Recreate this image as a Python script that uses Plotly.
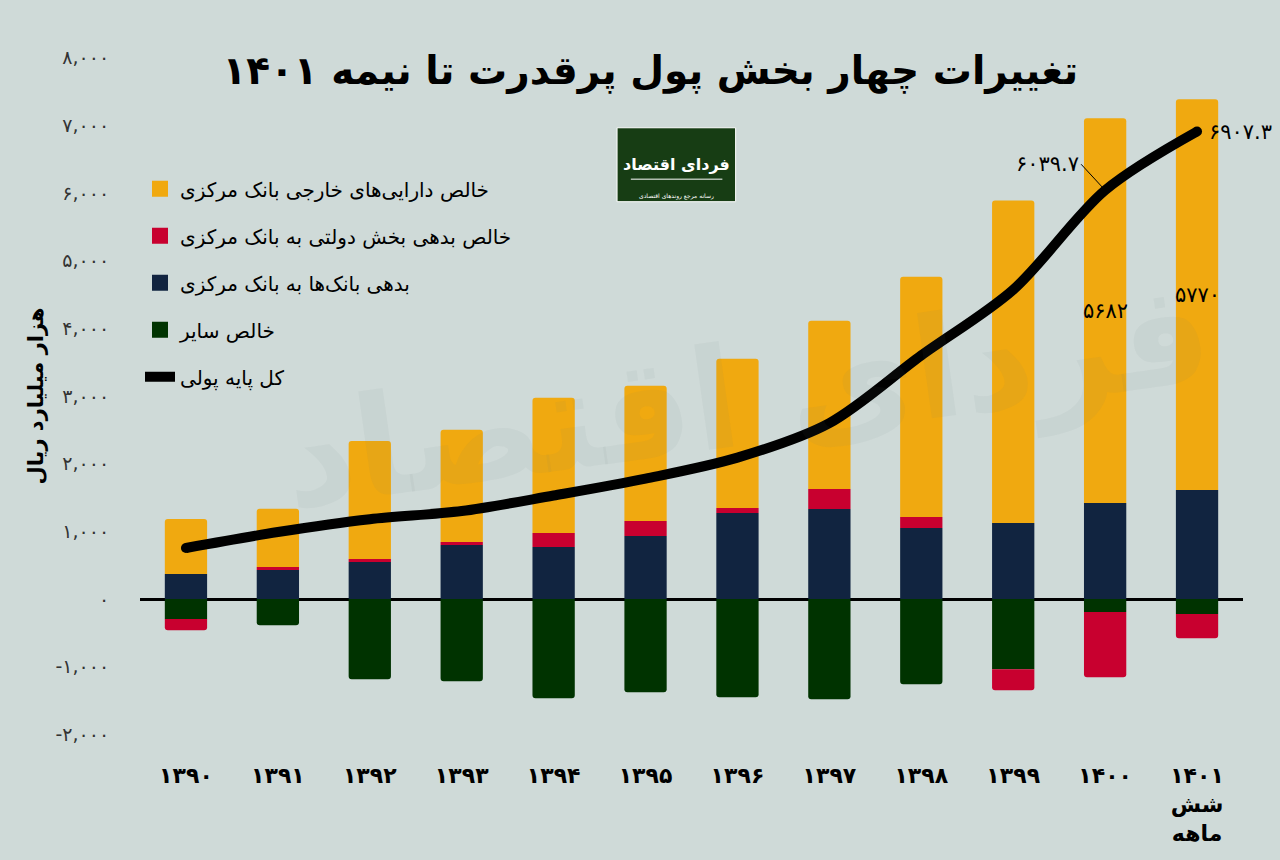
import plotly.graph_objects as go

# ---------------- data ----------------
years = ["۱۳۹۰", "۱۳۹۱", "۱۳۹۲", "۱۳۹۳", "۱۳۹۴", "۱۳۹۵",
         "۱۳۹۶", "۱۳۹۷", "۱۳۹۸", "۱۳۹۹", "۱۴۰۰", "۱۴۰۱<br>شش<br>ماهه"]
foreign_assets = [814, 858, 1745, 1657, 1997, 1997, 2204, 2485, 3550, 4763, 5682, 5770]
gov_debt = [-163, 45, 45, 45, 207, 222, 74, 296, 163, -311, -962, -355]
bank_debt = [370, 430, 547, 800, 770, 932, 1272, 1331, 1050, 1124, 1420, 1612]
other_net = [-296, -385, -1183, -1213, -1464, -1376, -1450, -1479, -1257, -1036, -192, -222]
monetary_base = [754, 990, 1180, 1300, 1530, 1780, 2090, 2600, 3600, 4570, 6039.7, 6907.3]
yticks = [-2000, -1000, 0, 1000, 2000, 3000, 4000, 5000, 6000, 7000, 8000]
ytick_text = ["-۲,۰۰۰", "-۱,۰۰۰", "۰", "۱,۰۰۰", "۲,۰۰۰", "۳,۰۰۰", "۴,۰۰۰",
              "۵,۰۰۰", "۶,۰۰۰", "۷,۰۰۰", "۸,۰۰۰"]
labelled_bars = {10: "۵۶۸۲", 11: "۵۷۷۰"}
base_labels = {10: "۶۰۳۹.۷", 11: "۶۹۰۷.۳"}

names = ["خالص دارایی‌های خارجی بانک مرکزی",
         "خالص بدهی بخش دولتی به بانک مرکزی",
         "بدهی بانک‌ها به بانک مرکزی",
         "خالص سایر",
         "کل پایه پولی"]

# ---------------- style ----------------
BG = "#cfdad8"
C_YEL = "#f0a910"
C_RED = "#c8002f"
C_NAVY = "#112440"
C_GRN = "#003300"
FONT = "DejaVu Sans"

x = list(range(len(years)))
fig = go.Figure()

bar_common = dict(x=x, width=0.46, showlegend=False, marker_line_width=0)
fig.add_trace(go.Bar(y=bank_debt, marker_color=C_NAVY, name=names[2], **bar_common))
fig.add_trace(go.Bar(y=other_net, marker_color=C_GRN, name=names[3], **bar_common))
fig.add_trace(go.Bar(y=gov_debt, marker_color=C_RED, name=names[1], **bar_common))
fig.add_trace(go.Bar(y=foreign_assets, marker_color=C_YEL, name=names[0], **bar_common))

fig.add_trace(go.Scatter(
    x=x, y=monetary_base, mode="lines", showlegend=False,
    line=dict(color="black", width=10, shape="spline", smoothing=0.9),
    name=names[4]))
# rounded line ends
fig.add_trace(go.Scatter(
    x=[x[0], x[-1]], y=[monetary_base[0], monetary_base[-1]], mode="markers",
    marker=dict(color="black", size=10), showlegend=False, hoverinfo="skip"))

# legend proxies
legend_colors = [C_YEL, C_RED, C_NAVY, C_GRN]
for i, (nm, col) in enumerate(zip(names[:4], legend_colors)):
    fig.add_trace(go.Scatter(
        x=[None], y=[None], mode="markers", name=nm, legendgroup=f"g{i}",
        marker=dict(symbol="square", size=16, color=col)))
fig.add_trace(go.Scatter(
    x=[None], y=[None], mode="lines", name=names[4], legendgroup="g4",
    line=dict(color="black", width=10)))

annotations = []
# values inside the last two yellow bars
for i, txt in labelled_bars.items():
    base = bank_debt[i] + max(gov_debt[i], 0)
    annotations.append(dict(x=i, y=base + foreign_assets[i] / 2, text=txt,
                            showarrow=False, font=dict(size=21, color="black", family=FONT)))
# monetary base labels
annotations.append(dict(x=11, y=monetary_base[11], text=base_labels[11],
                        showarrow=False, xanchor="left", xshift=10,
                        font=dict(size=21, color="black", family=FONT)))
annotations.append(dict(x=10, y=monetary_base[10], text=base_labels[10],
                        showarrow=True, arrowhead=0, arrowwidth=1, arrowcolor="black",
                        ax=-24, ay=-26, xanchor="right",
                        font=dict(size=21, color="black", family=FONT)))
# logo text
annotations.append(dict(xref="paper", yref="paper", x=0.486, y=0.845,
                        text="<b>فردای اقتصاد</b>", showarrow=False,
                        font=dict(size=16, color="white", family=FONT)))
annotations.append(dict(xref="paper", yref="paper", x=0.486, y=0.792,
                        text="رسانه مرجع روندهای اقتصادی", showarrow=False,
                        font=dict(size=6, color="white", family=FONT)))
# faint watermark
annotations.append(dict(xref="paper", yref="paper", x=0.55, y=0.50,
                        text="<b>فردای اقتصاد</b>", showarrow=False, textangle=-8,
                        font=dict(size=140, color="rgba(100,125,115,0.06)", family=FONT)))

shapes = [
    dict(type="rect", xref="paper", yref="paper", x0=0.4325, x1=0.540, y0=0.776, y1=0.881,
         fillcolor="#173d14", line=dict(width=1, color="#ffffff"), layer="above"),
    dict(type="line", xref="paper", yref="paper", x0=0.445, x1=0.528, y0=0.808, y1=0.808,
         line=dict(width=1, color="white"), layer="above"),
]

fig.update_layout(
    width=1280, height=860,
    paper_bgcolor=BG, plot_bgcolor=BG,
    barmode="relative",
    barcornerradius=3,
    margin=dict(l=140, r=37, t=44, b=112),
    font=dict(family=FONT, color="#222"),
    title=dict(text="<b>تغییرات چهار بخش پول پرقدرت تا نیمه ۱۴۰۱</b>",
               x=0.508, xanchor="center", y=0.918, yanchor="middle", yref="container",
               font=dict(size=39, color="black", family=FONT)),
    showlegend=True,
    legend=dict(x=0.0, xanchor="left", y=0.822, yanchor="top",
                bgcolor="rgba(0,0,0,0)", traceorder="grouped", tracegroupgap=18,
                font=dict(size=20, color="black", family=FONT), itemwidth=30),
    annotations=annotations,
    shapes=shapes,
    xaxis=dict(range=[-0.5, 11.5], tickvals=x, ticktext=[f"<b>{y}</b>" for y in years],
               showgrid=False, zeroline=False, showline=False,
               ticks="outside", ticklen=8, tickcolor=BG,
               tickfont=dict(size=22, color="black", family=FONT)),
    yaxis=dict(range=[-2200, 8200], tickvals=yticks, ticktext=ytick_text,
               showgrid=False, zeroline=True, zerolinecolor="black", zerolinewidth=3,
               showline=False, ticks="outside", ticklen=26, tickcolor=BG,
               tickfont=dict(size=19, color="#333", family=FONT),
               title=dict(text="<b>هزار میلیارد ریال</b>", standoff=6,
                          font=dict(size=21, color="black", family=FONT))),
)

fig.write_html("out.html", config={"displayModeBar": False},
               post_script="document.body.style.margin='0';document.body.style.overflow='hidden';")
